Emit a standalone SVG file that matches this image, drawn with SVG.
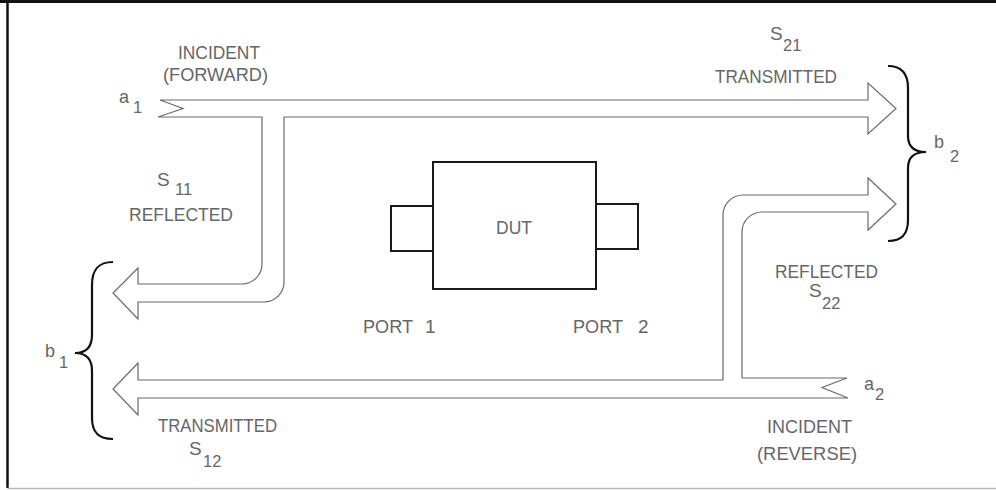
<svg xmlns="http://www.w3.org/2000/svg" width="996" height="490" viewBox="0 0 996 490">
<style>
  .t { font-family: "Liberation Sans", Arial, sans-serif; font-size: 19px; fill: #666; }
  .s { font-family: "Liberation Sans", Arial, sans-serif; font-size: 16.5px; fill: #666; }
  .l { font-family: "Liberation Sans", Arial, sans-serif; font-size: 18px; fill: #666; }
  .flow { fill: none; stroke: #6a6a6a; stroke-width: 1.2; stroke-linejoin: miter; }
  .brace { fill: none; stroke: #111; stroke-width: 2.2; }
  .dut { fill: none; stroke: #1a1a1a; stroke-width: 2; }
</style>
<rect width="996" height="490" fill="#fff"/>
<g id="frame">
  <line x1="0" y1="1.5" x2="996" y2="1.5" stroke="#111" stroke-width="3"/>
  <line x1="7.5" y1="0" x2="7.5" y2="488" stroke="#111" stroke-width="2.5"/>
  <line x1="7.5" y1="488.5" x2="996" y2="488.5" stroke="#bbb" stroke-width="1.5"/>
</g>
<g id="connectors">
  <path id="forward" class="flow" d="M160,100 L868,100 L868,83 L896,108.5 L868,134 L868,117 L284,117 L284,282 A20,20 0 0 1 264,302 L138,302 L138,319 L113,293 L138,268 L138,284 L242,284 A20,20 0 0 0 262,264 L262,117 L158,117 L183,108.5 Z"/>
  <path id="reverse" class="flow" d="M847,378 L742,378 L742,232 A20,20 0 0 1 762,212 L868,212 L868,230 L896,204 L868,178 L868,195 L743,195 A20,20 0 0 0 723,215 L723,380 L138,380 L138,363 L113,389 L138,415 L138,398 L848,398 L822,387.5 Z"/>
</g>
<g id="brace-b1">
  <path class="brace" d="M113,262 C98,262 92,270 92,285 L92,335 C92,347 86,353 75,353 C86,353 92,359 92,371 L92,418 C92,432 98,439 113,439"/>
  <text class="l" x="45" y="357">b</text>
  <text class="s" x="59" y="368">1</text>
</g>
<g id="brace-b2">
  <path class="brace" d="M888,66 C902,66 908,74 908,88 L908,136 C908,147 914,152 926,152 C914,152 908,157 908,168 L908,220 C908,234 902,241 888,241"/>
  <text class="l" x="934" y="148">b</text>
  <text class="s" x="950" y="162">2</text>
</g>
<g id="dut">
  <rect class="dut" x="433" y="162" width="163" height="127"/>
  <polyline class="dut" points="433,206 391,206 391,251 433,251"/>
  <polyline class="dut" points="596,204 638,204 638,249 596,249"/>
  <text class="t" x="496" y="234" textLength="36" lengthAdjust="spacingAndGlyphs">DUT</text>
</g>
<g id="port1">
  <text class="t" x="363" y="333" textLength="50" lengthAdjust="spacingAndGlyphs">PORT</text>
  <text class="t" x="425" y="333">1</text>
</g>
<g id="port2">
  <text class="t" x="573" y="333" textLength="50" lengthAdjust="spacingAndGlyphs">PORT</text>
  <text class="t" x="638" y="333">2</text>
</g>
<g id="label-a1">
  <text class="t" x="178" y="59" textLength="82" lengthAdjust="spacingAndGlyphs">INCIDENT</text>
  <text class="t" x="163" y="81" textLength="105" lengthAdjust="spacingAndGlyphs">(FORWARD)</text>
  <text class="l" x="119" y="103">a</text>
  <text class="s" x="133" y="113">1</text>
</g>
<g id="label-s21">
  <text class="t" x="770" y="40">S</text>
  <text class="s" x="783" y="51">21</text>
  <text class="t" x="715" y="83" textLength="122" lengthAdjust="spacingAndGlyphs">TRANSMITTED</text>
</g>
<g id="label-s11">
  <text class="t" x="157" y="186">S</text>
  <text class="s" x="175" y="195">11</text>
  <text class="t" x="129" y="221" textLength="104" lengthAdjust="spacingAndGlyphs">REFLECTED</text>
</g>
<g id="label-s22">
  <text class="t" x="775" y="278" textLength="103" lengthAdjust="spacingAndGlyphs">REFLECTED</text>
  <text class="t" x="809" y="297">S</text>
  <text class="s" x="822" y="309">22</text>
</g>
<g id="label-a2">
  <text class="l" x="864" y="390">a</text>
  <text class="s" x="875" y="400">2</text>
  <text class="t" x="767" y="433" textLength="85" lengthAdjust="spacingAndGlyphs">INCIDENT</text>
  <text class="t" x="757" y="460" textLength="100" lengthAdjust="spacingAndGlyphs">(REVERSE)</text>
</g>
<g id="label-s12">
  <text class="t" x="158" y="432" textLength="119" lengthAdjust="spacingAndGlyphs">TRANSMITTED</text>
  <text class="t" x="189" y="455">S</text>
  <text class="s" x="203" y="467">12</text>
</g>
</svg>
